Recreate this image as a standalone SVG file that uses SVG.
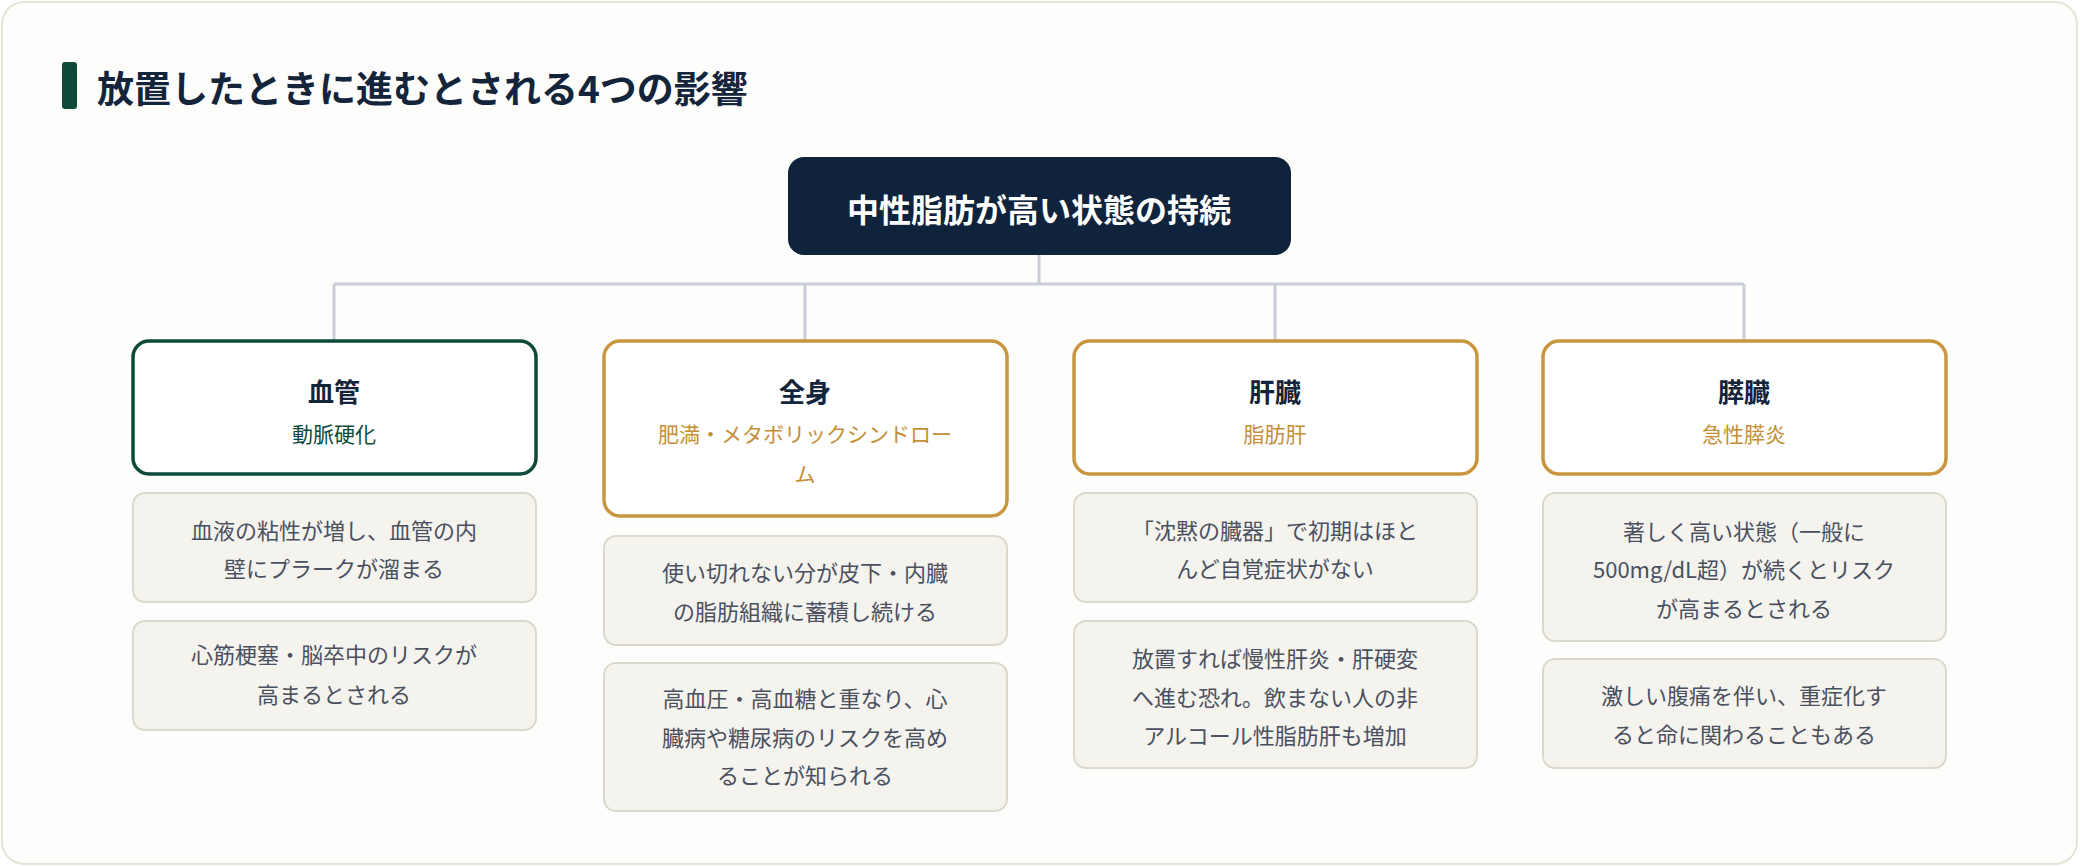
<svg xmlns="http://www.w3.org/2000/svg" width="2080" height="866" viewBox="0 0 2080 866">
<style>
text{font-family:"Noto Sans CJK JP","Noto Sans",sans-serif;text-anchor:middle}
.h{font-size:26px;font-weight:700;fill:#13243b}
.s{font-size:21px}
.g{fill:#0d4a3a}.o{fill:#c48f36}
.d{font-size:22px;fill:#4a5060}
.hb{fill:#fff;stroke-width:3.5}
.db{fill:#f4f3ee;stroke:#dcd9cc;stroke-width:2}
</style>
<rect x="2" y="2" width="2075" height="862" rx="22" fill="#fdfdfb" stroke="#e6e4d6" stroke-width="2"/>
<g id="title"><rect x="62" y="62" width="15" height="47" rx="3" fill="#0d4a3a"/>
<text x="97" y="103" style="text-anchor:start;font-size:37px;font-weight:700;fill:#13243b">放置したときに進むとされる4つの影響</text></g>
<g id="connectors" fill="none" stroke="#c9ced8" stroke-width="3">
<path d="M1039 255V284M334 284H1744M334 284V341M805 284V341M1275 284V341M1744 284V341"/></g>
<g id="root"><rect x="788" y="157" width="503" height="98" rx="16" fill="#10233d"/>
<text x="1039" y="222" style="font-size:32px;font-weight:700;fill:#fff">中性脂肪が高い状態の持続</text></g>
<g id="n1"><rect class="hb" x="133" y="341" width="403" height="133" rx="16" stroke="#0d4a3a"/>
<text class="h" x="334" y="402">血管</text><text class="s g" x="334" y="442">動脈硬化</text></g>
<g id="n1a"><rect class="db" x="133" y="493" width="403" height="109" rx="12"/>
<text class="d" x="334" y="539">血液の粘性が増し、血管の内</text><text class="d" x="334" y="577">壁にプラークが溜まる</text></g>
<g id="n1b"><rect class="db" x="133" y="621" width="403" height="109" rx="12"/>
<text class="d" x="334" y="663">心筋梗塞・脳卒中のリスクが</text><text class="d" x="334" y="703">高まるとされる</text></g>
<g id="n2"><rect class="hb" x="604" y="341" width="403" height="175" rx="16" stroke="#c8963e"/>
<text class="h" x="805" y="402">全身</text><text class="s o" x="805" y="442">肥満・メタボリックシンドロー</text><text class="s o" x="805" y="482">ム</text></g>
<g id="n2a"><rect class="db" x="604" y="536" width="403" height="109" rx="12"/>
<text class="d" x="805" y="581">使い切れない分が皮下・内臓</text><text class="d" x="805" y="620">の脂肪組織に蓄積し続ける</text></g>
<g id="n2b"><rect class="db" x="604" y="663" width="403" height="148" rx="12"/>
<text class="d" x="805" y="707">高血圧・高血糖と重なり、心</text><text class="d" x="805" y="746">臓病や糖尿病のリスクを高め</text><text class="d" x="805" y="784">ることが知られる</text></g>
<g id="n3"><rect class="hb" x="1074" y="341" width="403" height="133" rx="16" stroke="#c8963e"/>
<text class="h" x="1275" y="402">肝臓</text><text class="s o" x="1275" y="442">脂肪肝</text></g>
<g id="n3a"><rect class="db" x="1074" y="493" width="403" height="109" rx="12"/>
<text class="d" x="1275" y="539">「沈黙の臓器」で初期はほと</text><text class="d" x="1275" y="577">んど自覚症状がない</text></g>
<g id="n3b"><rect class="db" x="1074" y="621" width="403" height="147" rx="12"/>
<text class="d" x="1275" y="667">放置すれば慢性肝炎・肝硬変</text><text class="d" x="1275" y="706">へ進む恐れ。飲まない人の非</text><text class="d" x="1275" y="744">アルコール性脂肪肝も増加</text></g>
<g id="n4"><rect class="hb" x="1543" y="341" width="403" height="133" rx="16" stroke="#c8963e"/>
<text class="h" x="1744" y="402">膵臓</text><text class="s o" x="1744" y="442">急性膵炎</text></g>
<g id="n4a"><rect class="db" x="1543" y="493" width="403" height="148" rx="12"/>
<text class="d" x="1744" y="540">著しく高い状態（一般に</text><text class="d" x="1744" y="578">500mg/dL超）が続くとリスク</text><text class="d" x="1744" y="617">が高まるとされる</text></g>
<g id="n4b"><rect class="db" x="1543" y="659" width="403" height="109" rx="12"/>
<text class="d" x="1744" y="704">激しい腹痛を伴い、重症化す</text><text class="d" x="1744" y="743">ると命に関わることもある</text></g>
</svg>
